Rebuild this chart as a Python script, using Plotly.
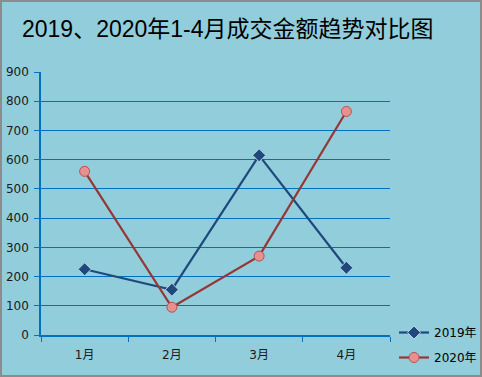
import plotly.graph_objects as go

months = ["1月", "2月", "3月", "4月"]
s2019 = [225, 155, 615, 230]
s2020 = [560, 95, 270, 765]
series_names = ["2019年", "2020年"]
title_text = "2019、2020年1-4月成交金额趋势对比图"

W, H = 482, 377
L, R, T, B = 41, 92, 72, 42
pw, ph = W - L - R, H - T - B

fig = go.Figure()
fig.add_trace(go.Scatter(
    x=months, y=s2019, name=series_names[0], mode="lines+markers", legendgroup="a",
    line=dict(color="#1F497D", width=2.2),
    marker=dict(symbol="diamond", size=10, color="#1F497D", line=dict(color="#B9CDE5", width=1)),
))
fig.add_trace(go.Scatter(
    x=months, y=s2020, name=series_names[1], mode="lines+markers", legendgroup="b",
    line=dict(color="#953735", width=2.2),
    marker=dict(symbol="circle", size=10, color="#E6918F", line=dict(color="#B8504E", width=1)),
))

grid = "#0070C0"
fig.update_layout(
    width=W, height=H,
    margin=dict(l=L, r=R, t=T, b=B, pad=0, autoexpand=False),
    paper_bgcolor="#92CDDC", plot_bgcolor="#92CDDC",
    title=dict(text=title_text, x=22 / W, xanchor="left", y=1 - 29 / H, yanchor="middle",
               font=dict(family="Liberation Sans, Noto Sans CJK SC", size=23, color="#000000")),
    showlegend=True,
    legend=dict(xref="container", yref="container", x=394 / W, xanchor="left", y=1 - 318 / H, yanchor="top",
                bgcolor="rgba(0,0,0,0)", font=dict(family="DejaVu Sans, Noto Sans CJK SC", size=12, color="#000000"),
                tracegroupgap=6, itemwidth=30),
    font=dict(family="DejaVu Sans, Noto Sans CJK SC", size=12, color="#1A1A1A"),
    xaxis=dict(range=[-0.5, 3.5], tickson="boundaries", ticks="outside", ticklen=5, tickcolor=grid,
               showline=True, linecolor=grid, linewidth=1.5, showgrid=False, zeroline=False,
               ticklabelstandoff=8,
               tickfont=dict(size=12, color="#1A1A1A"), fixedrange=True),
    yaxis=dict(range=[0, 900], dtick=100, ticks="outside", ticklen=5, tickcolor=grid,
               showline=True, linecolor=grid, linewidth=1.5, showgrid=True, gridcolor=grid, gridwidth=1,
               ticklabelstandoff=3,
               zeroline=False, tickfont=dict(size=12, color="#1A1A1A"), fixedrange=True),
    shapes=[dict(type="rect", xref="paper", yref="paper",
                 x0=-(L - 1) / pw, x1=1 + (R - 1) / pw, y0=-(B - 1) / ph, y1=1 + (T - 1) / ph,
                 line=dict(color="#8C8C8C", width=2), fillcolor="rgba(0,0,0,0)", layer="above")],
)
fig.write_html("out.html")
